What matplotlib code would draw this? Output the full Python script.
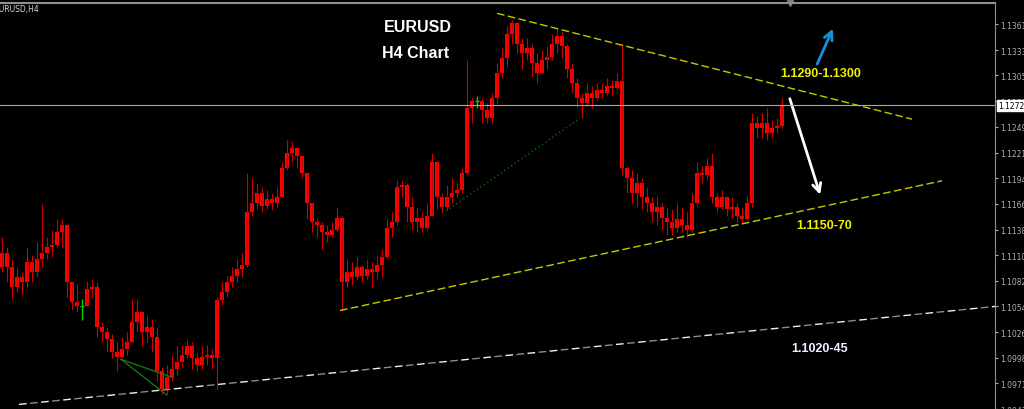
import matplotlib
matplotlib.use("Agg")
import matplotlib.pyplot as plt
import matplotlib.transforms as mtransforms
from matplotlib.patches import FancyArrowPatch

# EURUSD H4 - свечи (цены)
open0 = 1.1097
closes = [1.1113, 1.1097, 1.1076, 1.1086, 1.1081, 1.1103, 1.1092, 1.1106, 1.1113, 1.1119, 1.1121, 1.1135, 1.1143,
          1.1081, 1.1059, 1.1055, 1.1055, 1.1073, 1.1076, 1.1032,
          1.1027, 1.1019, 1.1005, 1.1000, 1.1008, 1.1016, 1.1038, 1.1048, 1.1027, 1.1032, 1.1021, 1.0984, 1.0965,
          1.0978, 1.0987, 1.0994, 1.1002, 1.1011, 1.0998, 1.0991, 1.1000, 1.1002, 1.0998,
          1.1061, 1.1070, 1.1081, 1.1088, 1.1095, 1.1099, 1.1157, 1.1167, 1.1178, 1.1164, 1.1171, 1.1167, 1.1173,
          1.1205, 1.1221, 1.1227, 1.1218, 1.1200, 1.1167, 1.1146, 1.1143, 1.1135, 1.1132, 1.1138, 1.1151,
          1.1081, 1.1092, 1.1086, 1.1097, 1.1088, 1.1095, 1.1092, 1.1099, 1.1108, 1.1140, 1.1146, 1.1184, 1.1186,
          1.1162, 1.1146, 1.1151, 1.1140, 1.1153, 1.1211, 1.1173, 1.1162, 1.1173, 1.1178, 1.1181, 1.1200,
          1.1270, 1.1278, 1.1278, 1.1268, 1.1259, 1.1281, 1.1308, 1.1324, 1.1351, 1.1362, 1.1340, 1.1330, 1.1335,
          1.1319, 1.1308, 1.1322, 1.1326, 1.1340, 1.1348, 1.1337, 1.1313, 1.1297, 1.1281, 1.1275, 1.1286, 1.1281,
          1.1290, 1.1286, 1.1294, 1.1292, 1.1299,
          1.1205, 1.1194, 1.1178, 1.1189, 1.1173, 1.1167, 1.1157, 1.1162, 1.1151, 1.1146, 1.1140, 1.1149, 1.1143,
          1.1138, 1.1167, 1.1200, 1.1197, 1.1207, 1.1173, 1.1162, 1.1173, 1.1160, 1.1162, 1.1153, 1.1149, 1.1167,
          1.1254, 1.1248, 1.1254, 1.1243, 1.1248, 1.1251, 1.1273]
highs = [1.1130, 1.1119, 1.1106, 1.1097, 1.1092, 1.1119, 1.1110, 1.1124, 1.1166, 1.1130, 1.1138, 1.1149, 1.1149,
         1.1121, 1.1081, 1.1079, 1.1063, 1.1082, 1.1084, 1.1081,
         1.1038, 1.1032, 1.1025, 1.1016, 1.1021, 1.1027, 1.1063, 1.1063, 1.1043, 1.1045, 1.1041, 1.1032, 1.0989,
         1.0991, 1.1002, 1.1011, 1.1013, 1.1019, 1.1016, 1.1005, 1.1011, 1.1013, 1.1008,
         1.1065, 1.1081, 1.1088, 1.1097, 1.1106, 1.1113, 1.1200, 1.1194, 1.1189, 1.1184, 1.1181, 1.1178, 1.1184,
         1.1211, 1.1235, 1.1234, 1.1227, 1.1216, 1.1200, 1.1157, 1.1151, 1.1146, 1.1143, 1.1146, 1.1162,
         1.1153, 1.1106, 1.1103, 1.1108, 1.1099, 1.1106, 1.1103, 1.1110, 1.1117, 1.1149, 1.1157, 1.1192, 1.1192,
         1.1189, 1.1173, 1.1162, 1.1157, 1.1167, 1.1221, 1.1211, 1.1178, 1.1186, 1.1194, 1.1189, 1.1205,
         1.1322, 1.1281, 1.1283, 1.1281, 1.1275, 1.1286, 1.1319, 1.1335, 1.1359, 1.1366, 1.1362, 1.1346, 1.1346,
         1.1340, 1.1330, 1.1333, 1.1337, 1.1351, 1.1357, 1.1353, 1.1340, 1.1319, 1.1303, 1.1286, 1.1297, 1.1294,
         1.1297, 1.1297, 1.1303, 1.1300, 1.1308,
         1.1340, 1.1207, 1.1203, 1.1200, 1.1194, 1.1184, 1.1173, 1.1175, 1.1167, 1.1162, 1.1160, 1.1167, 1.1162,
         1.1157, 1.1178, 1.1211, 1.1207, 1.1216, 1.1221, 1.1178, 1.1181, 1.1175, 1.1173, 1.1167, 1.1162, 1.1175,
         1.1265, 1.1261, 1.1265, 1.1270, 1.1257, 1.1259, 1.1281]
lows = [1.1092, 1.1081, 1.1063, 1.1070, 1.1067, 1.1076, 1.1081, 1.1086, 1.1097, 1.1106, 1.1108, 1.1119, 1.1119,
        1.1065, 1.1051, 1.1048, 1.1040, 1.1059, 1.1065, 1.1021,
        1.1016, 1.1005, 1.0998, 1.0984, 1.0998, 1.1002, 1.1019, 1.1027, 1.1011, 1.1016, 1.1005, 1.0973, 1.0959,
        1.0959, 1.0973, 1.0980, 1.0989, 1.0998, 1.0987, 1.0984, 1.0987, 1.0991, 1.0987,
        1.0965, 1.1056, 1.1065, 1.1076, 1.1081, 1.1086, 1.1097, 1.1153, 1.1160, 1.1157, 1.1160, 1.1159, 1.1162,
        1.1173, 1.1203, 1.1211, 1.1205, 1.1194, 1.1149, 1.1135, 1.1130, 1.1117, 1.1124, 1.1130, 1.1135,
        1.1051, 1.1076, 1.1078, 1.1084, 1.1081, 1.1084, 1.1076, 1.1084, 1.1086, 1.1106, 1.1130, 1.1143, 1.1173,
        1.1146, 1.1138, 1.1135, 1.1135, 1.1138, 1.1153, 1.1160, 1.1157, 1.1159, 1.1167, 1.1173, 1.1178,
        1.1200, 1.1254, 1.1270, 1.1254, 1.1254, 1.1254, 1.1275, 1.1303, 1.1315, 1.1340, 1.1330, 1.1313, 1.1322,
        1.1305, 1.1297, 1.1311, 1.1313, 1.1322, 1.1330, 1.1324, 1.1303, 1.1286, 1.1270, 1.1259, 1.1272, 1.1270,
        1.1279, 1.1281, 1.1284, 1.1283, 1.1290,
        1.1197, 1.1178, 1.1167, 1.1162, 1.1160, 1.1157, 1.1146, 1.1143, 1.1138, 1.1132, 1.1132, 1.1135, 1.1135,
        1.1130, 1.1135, 1.1164, 1.1189, 1.1192, 1.1167, 1.1157, 1.1160, 1.1153, 1.1151, 1.1146, 1.1145, 1.1149,
        1.1162, 1.1238, 1.1238, 1.1235, 1.1238, 1.1243, 1.1248]
green_bars = [16, 95]  # доджи зелёного цвета

last_price = 1.12729
price_ticks = [1.13610, 1.13330, 1.13055, 1.12775, 1.12495, 1.12215, 1.11940, 1.11660,
               1.11380, 1.11100, 1.10825, 1.10545, 1.10265, 1.09985, 1.09710, 1.09430]

# линии тренда: (x1, x2), (y1, y2) в номерах свечей и ценах
upper_x, upper_y = [99, 182], [1.1373, 1.1258]
lower_x, lower_y = [67.6, 188], [1.1050, 1.1191]
support_x, support_y = [3.4, 199.6], [1.0948, 1.1055]
dotted_x, dotted_y = [88.8, 115.6], [1.1158, 1.1259]
fan_x1, fan_y1 = [23.8, 33.0], [1.0997, 1.0958]
fan_x2, fan_y2 = [23.8, 34.2], [1.0997, 1.0977]
down_arrow = [(157.4, 1.1283), (163.8, 1.1173)]
up_arrow = [(162.8, 1.1315), (166.4, 1.1359)]

fig = plt.figure(figsize=(10.24, 4.10), dpi=100, facecolor='black')
ax = fig.add_axes([0, 0, 995 / 1024, 406 / 410])
ax.set_facecolor('black')
ax.set_xlim(-0.4, 198.6)
ax.set_ylim(1.09454, 1.13842)

n = len(closes)
idx = list(range(n))
opens = [open0] + closes[:-1]
red_i = [i for i in idx if i not in green_bars]

# тени
ax.vlines(red_i, [min(lows[i], opens[i], closes[i]) for i in red_i],
          [max(highs[i], opens[i], closes[i]) for i in red_i], color='#d00000', lw=0.8)
# тела
bottoms = [min(opens[i], closes[i]) for i in red_i]
heights = [max(abs(closes[i] - opens[i]), 0.00006) for i in red_i]
ax.bar(red_i, heights, bottom=bottoms, width=0.62, color='#ff0000', linewidth=0)

for i in green_bars:
    ax.vlines(i, lows[i], highs[i], color='#00d000', lw=1)
    ax.hlines(closes[i], i - 0.35, i + 0.35, color='#00d000', lw=1)

# текущая цена
ax.axhline(last_price, color='#a8a8a8', lw=0.8)

# линии
ax.plot(upper_x, upper_y, color='#c8c800', lw=1, dashes=(5.5, 2.5))
ax.plot(lower_x, lower_y, color='#c8c800', lw=1, dashes=(5.5, 2.5))
ax.plot(support_x, support_y, color='#f0f0f0', lw=1, linestyle=(0, (5.5, 10.5)))
ax.plot(support_x, support_y, color='#8c8c8c', lw=1, linestyle=(8, (5.5, 10.5)))
ax.plot(dotted_x, dotted_y, color='#0a6a0a', lw=1, linestyle=(0, (1, 2)))
ax.plot(fan_x1, fan_y1, color='#1a7a1a', lw=0.9)
ax.plot(fan_x2, fan_y2, color='#1a7a1a', lw=0.9)

ax.add_patch(FancyArrowPatch(down_arrow[0], down_arrow[1], arrowstyle='->,head_length=6,head_width=3',
                             color='white', lw=2, mutation_scale=1))
ax.add_patch(FancyArrowPatch(up_arrow[0], up_arrow[1], arrowstyle='->,head_length=6,head_width=3',
                             color='#1a90d8', lw=2, mutation_scale=1))

# подписи
bold = dict(family=['Liberation Sans', 'DejaVu Sans'], weight='bold', ha='center', va='center')
ax.text(83.2, 1.1359, 'EURUSD', color='white', fontsize=11.5, **bold)
ax.text(82.8, 1.1330, 'H4 Chart', color='white', fontsize=11.5, **bold)
ax.text(163.8, 1.1308, '1.1290-1.1300', color='#f0f000', fontsize=9, **bold)
ax.text(164.4, 1.1143, '1.1150-70', color='#f0f000', fontsize=9, **bold)
ax.text(163.6, 1.1009, '1.1020-45', color='#eef2ff', fontsize=9, **bold)

# ось цен справа
ax.yaxis.tick_right()
ax.set_yticks(price_ticks)
ax.set_yticklabels([f"{t:.5f}" for t in price_ticks])
ax.tick_params(axis='y', colors='#b0b0b0', labelsize=5.5, length=2, pad=1.5)
ax.set_xticks([])
for s in ['left', 'bottom']:
    ax.spines[s].set_visible(False)
ax.spines['right'].set_color('#909090')
ax.spines['top'].set_color('#909090')
ax.spines['top'].set_linewidth(1.5)

trans = mtransforms.blended_transform_factory(ax.transAxes, ax.transData)
ax.text(1.003, last_price, f"{last_price:.5f}", transform=trans, fontsize=5.5, color='black',
        va='center', ha='left', bbox=dict(facecolor='white', edgecolor='white', pad=0.6))
ax.plot([157.6], [1.0], marker='v', ms=5, color='#808080',
        transform=mtransforms.blended_transform_factory(ax.transData, ax.transAxes), clip_on=False)

fig.text(-0.006, 1 - 5 / 410, 'EURUSD,H4', color='#d8d8d8', fontsize=5.5, va='top', ha='left')

fig.savefig('out.png', dpi=100, facecolor='black')
